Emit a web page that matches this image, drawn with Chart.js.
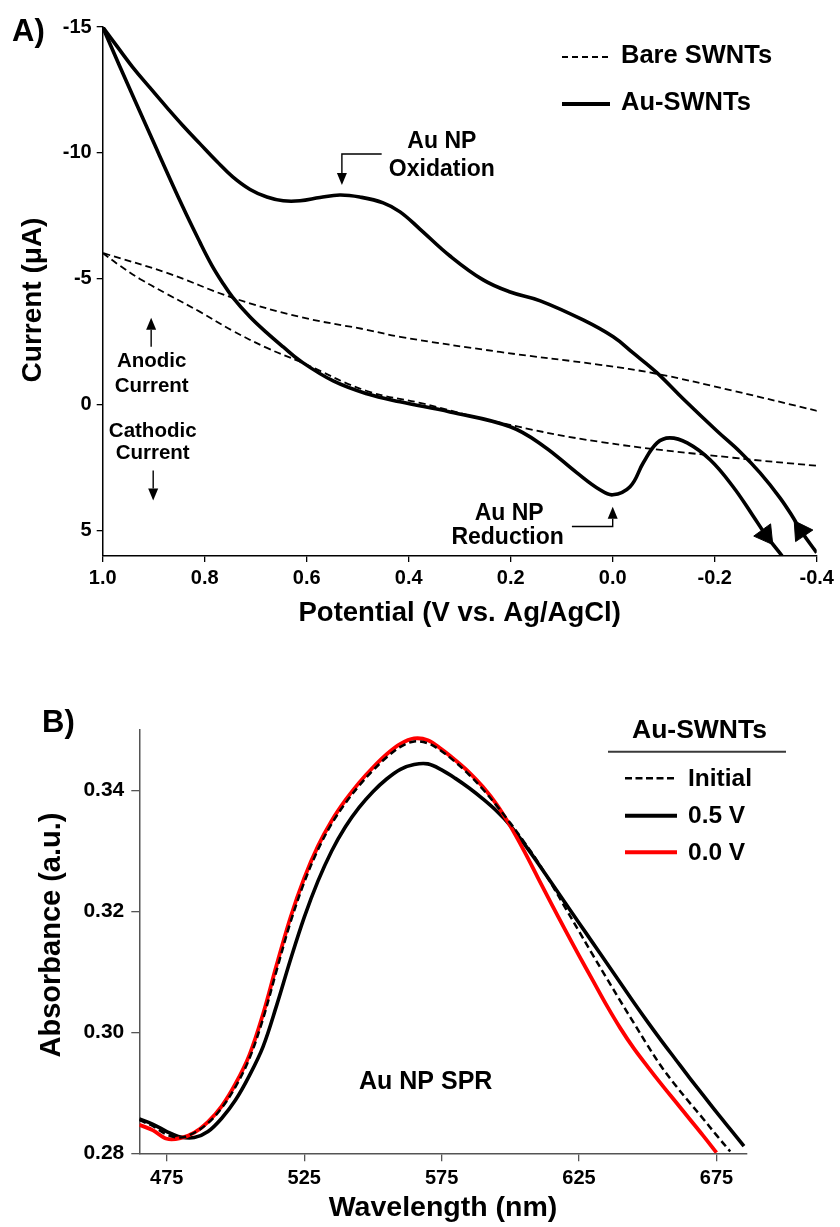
<!DOCTYPE html>
<html>
<head>
<meta charset="utf-8">
<script src="https://cdn.jsdelivr.net/npm/chart.js@4.4.1/dist/chart.umd.min.js"></script>
<style>
  html, body { margin: 0; padding: 0; background: #fff; }
  #wrap { position: relative; width: 840px; height: 1227px; }
  canvas { position: absolute; left: 0; }
  #cvChart { top: 0; }
  #specChart { top: 640px; }
</style>
</head>
<body>
<div id="wrap">
  <canvas id="cvChart" width="840" height="640"></canvas>
  <canvas id="specChart" width="840" height="587"></canvas>
</div>
<script>
// ---------- Panel A: cyclic voltammetry ----------
// Au-SWNTs, cathodic sweep (1.0 V -> -0.4 V)
const auCathodicV = [1.0, 0.966, 0.907, 0.843, 0.809, 0.786, 0.766, 0.745, 0.711, 0.678, 0.646, 0.613, 0.548, 0.482, 0.417, 0.319, 0.201, 0.136, 0.070, 0.025, 0.0, -0.034, -0.060, -0.087, -0.112, -0.146, -0.191, -0.236, -0.275, -0.300, -0.332];
const auCathodicI = [-15, -13.41, -10.73, -7.86, -6.44, -5.54, -4.88, -4.27, -3.49, -2.86, -2.30, -1.75, -0.95, -0.44, -0.12, 0.28, 0.87, 1.63, 2.70, 3.37, 3.57, 3.25, 2.30, 1.51, 1.31, 1.51, 2.18, 3.25, 4.40, 5.16, 5.99];
// Au-SWNTs, anodic sweep (-0.4 V -> 1.0 V)
const auAnodicV = [-0.400, -0.369, -0.354, -0.328, -0.289, -0.250, -0.204, -0.138, -0.087, -0.040, -0.001, 0.058, 0.142, 0.201, 0.254, 0.319, 0.378, 0.417, 0.450, 0.496, 0.535, 0.574, 0.613, 0.646, 0.678, 0.711, 0.745, 0.776, 0.809, 0.843, 0.874, 0.907, 0.941, 0.970, 1.0];
const auAnodicI = [5.87, 5.00, 4.48, 3.69, 2.70, 1.87, 1.03, -0.24, -1.27, -2.06, -2.70, -3.37, -4.13, -4.48, -4.96, -5.91, -6.98, -7.66, -8.02, -8.25, -8.33, -8.23, -8.10, -8.10, -8.25, -8.55, -9.05, -9.66, -10.36, -11.09, -11.80, -12.58, -13.40, -14.18, -15];
// Bare SWNTs, cathodic sweep
const bareCathodicV = [1.0, 0.966, 0.927, 0.874, 0.809, 0.745, 0.678, 0.613, 0.482, 0.378, 0.221, 0.025, -0.236, -0.401];
const bareCathodicI = [-6.03, -5.52, -5.00, -4.40, -3.69, -2.94, -2.26, -1.71, -0.55, -0.08, 0.71, 1.47, 2.10, 2.42];
// Bare SWNTs, anodic sweep
const bareAnodicV = [-0.401, -0.236, -0.087, 0.025, 0.221, 0.417, 0.482, 0.613, 0.745, 0.874, 1.0];
const bareAnodicI = [0.24, -0.56, -1.23, -1.59, -2.10, -2.70, -2.98, -3.49, -4.25, -5.24, -6.03];

const potentialTicks = [1.0, 0.8, 0.6, 0.4, 0.2, 0.0, -0.2, -0.4];
const currentTicks = [-15, -10, -5, 0, 5];

// ---------- Panel B: absorbance spectra ----------
const wavelengths = [465, 470, 475, 480, 485, 490, 495, 500, 505, 510, 515, 520, 525, 530, 535, 540, 545, 550, 555, 560, 565, 570, 575, 580, 585, 590, 595, 600, 605, 610, 615, 620, 625, 630, 635, 640, 645, 650, 655, 660, 665, 670, 675, 680, 685];
const absInitial = [0.2855, 0.2845, 0.2831, 0.2826, 0.2834, 0.2850, 0.2875, 0.2910, 0.2956, 0.3022, 0.3103, 0.3182, 0.3248, 0.3302, 0.3345, 0.3379, 0.3408, 0.3433, 0.3455, 0.3472, 0.3481, 0.3478, 0.3465, 0.3447, 0.3426, 0.3402, 0.3375, 0.3346, 0.3315, 0.3282, 0.3245, 0.3206, 0.3167, 0.3128, 0.3090, 0.3052, 0.3015, 0.2978, 0.2943, 0.2913, 0.2885, 0.2858, 0.2830, 0.2803, null];
const abs05V = [0.2857, 0.2848, 0.2836, 0.2827, 0.2826, 0.2836, 0.2858, 0.2888, 0.2928, 0.2976, 0.3045, 0.3120, 0.3190, 0.3250, 0.3300, 0.3340, 0.3372, 0.3398, 0.3419, 0.3435, 0.3443, 0.3444, 0.3434, 0.3420, 0.3404, 0.3386, 0.3366, 0.3342, 0.3312, 0.3280, 0.3247, 0.3214, 0.3181, 0.3148, 0.3115, 0.3082, 0.3049, 0.3017, 0.2986, 0.2956, 0.2926, 0.2897, 0.2868, 0.2840, 0.2812];
const abs00V = [0.2847, 0.2838, 0.2824, 0.2825, 0.2834, 0.2852, 0.2878, 0.2915, 0.2962, 0.3030, 0.3112, 0.3190, 0.3255, 0.3308, 0.3350, 0.3384, 0.3413, 0.3438, 0.3460, 0.3477, 0.3486, 0.3483, 0.3468, 0.3450, 0.3430, 0.3406, 0.3377, 0.3341, 0.3300, 0.3256, 0.3212, 0.3169, 0.3127, 0.3086, 0.3045, 0.3007, 0.2973, 0.2943, 0.2914, 0.2886, 0.2858, 0.2830, 0.2801, null, null];

const wavelengthTicks = [475, 525, 575, 625, 675];
const absorbanceTicks = [0.28, 0.30, 0.32, 0.34];

// ============================================
const FONT = '"Liberation Sans", Arial, Helvetica, sans-serif';
Chart.defaults.font.family = FONT;
Chart.defaults.color = '#000';

function bold(size) {
    return 'bold ' + size + 'px ' + FONT;
}

function toPoints(xs, ys) {
    return xs.map((x, i) => ({ x: x, y: ys[i] }));
}

// triangle marker on one point of a sweep, turned along the curve
function sweepArrow(xs, ys, idx) {
    return {
        pointStyle: 'triangle',
        pointRadius: ctx => ctx.dataIndex === idx ? 12 : 0,
        pointHoverRadius: 0,
        pointBackgroundColor: '#000',
        pointBorderColor: '#000',
        pointBorderWidth: 1,
        pointRotation: ctx => {
            if (ctx.dataIndex !== idx) return 0;
            const sx = ctx.chart.scales.x, sy = ctx.chart.scales.y;
            const dx = sx.getPixelForValue(xs[idx + 1]) - sx.getPixelForValue(xs[idx - 1]);
            const dy = sy.getPixelForValue(ys[idx + 1]) - sy.getPixelForValue(ys[idx - 1]);
            return Math.atan2(dy, dx) * 180 / Math.PI + 90;
        }
    };
}

// polyline with a filled arrow head at its last point
function drawArrow(c, pts, color) {
    const n = pts.length;
    const [tx, ty] = pts[n - 1];
    const [bx, by] = pts[n - 2];
    const ang = Math.atan2(ty - by, tx - bx);
    const len = 12, half = 5;
    const hx = tx - Math.cos(ang) * len, hy = ty - Math.sin(ang) * len;
    c.strokeStyle = color; c.fillStyle = color; c.lineWidth = 1.4;
    c.setLineDash([]);
    c.beginPath();
    c.moveTo(pts[0][0], pts[0][1]);
    for (let i = 1; i < n - 1; i++) c.lineTo(pts[i][0], pts[i][1]);
    c.lineTo(hx, hy);
    c.stroke();
    c.beginPath();
    c.moveTo(tx, ty);
    c.lineTo(hx - Math.sin(ang) * half, hy + Math.cos(ang) * half);
    c.lineTo(hx + Math.sin(ang) * half, hy - Math.cos(ang) * half);
    c.closePath();
    c.fill();
}

function centerText(c, text, x, y, size) {
    c.font = bold(size);
    c.textAlign = 'center';
    c.textBaseline = 'middle';
    c.fillText(text, x, y);
}

function verticalTitle(c, text, x, y, size) {
    c.save();
    c.translate(x, y);
    c.rotate(-Math.PI / 2);
    centerText(c, text, 0, 0, size);
    c.restore();
}

// ---------- Panel A decorations ----------
const cvDecor = {
    id: 'cvDecor',
    afterDraw(chart) {
        const c = chart.ctx;
        const sx = chart.scales.x, sy = chart.scales.y;
        const P = (v, i) => [sx.getPixelForValue(v), sy.getPixelForValue(i)];
        c.save();
        c.fillStyle = '#000';

        c.font = bold(31); c.textAlign = 'left'; c.textBaseline = 'middle';
        c.fillText('A)', 12, 32);

        verticalTitle(c, 'Current (\u03bcA)', 33, 300, 28);

        // legend
        c.strokeStyle = '#000';
        c.lineWidth = 2; c.setLineDash([6, 4]);
        c.beginPath(); c.moveTo(562, 57); c.lineTo(610, 57); c.stroke();
        c.setLineDash([]); c.lineWidth = 4;
        c.beginPath(); c.moveTo(562, 104); c.lineTo(610, 104); c.stroke();
        c.font = bold(25.5); c.textAlign = 'left'; c.textBaseline = 'middle';
        c.fillText('Bare SWNTs', 621, 56);
        c.fillText('Au-SWNTs', 621, 103);

        // oxidation peak label
        let p = P(0.335, -10.45); centerText(c, 'Au NP', p[0], p[1], 23);
        p = P(0.335, -9.33); centerText(c, 'Oxidation', p[0], p[1], 23);
        drawArrow(c, [P(0.453, -9.96), P(0.531, -9.96), P(0.531, -8.73)], '#000');

        // reduction peak label
        p = P(0.203, 4.30); centerText(c, 'Au NP', p[0], p[1], 23);
        p = P(0.206, 5.29); centerText(c, 'Reduction', p[0], p[1], 23);
        drawArrow(c, [P(0.080, 4.83), P(0.0, 4.83), P(0.0, 4.04)], '#000');

        // current direction notes
        p = P(0.904, -1.72); centerText(c, 'Anodic', p[0], p[1], 20.5);
        p = P(0.904, -0.75); centerText(c, 'Current', p[0], p[1], 20.5);
        drawArrow(c, [P(0.905, -2.31), P(0.905, -3.46)], '#000');
        p = P(0.902, 1.06); centerText(c, 'Cathodic', p[0], p[1], 20.5);
        p = P(0.902, 1.92); centerText(c, 'Current', p[0], p[1], 20.5);
        drawArrow(c, [P(0.901, 2.61), P(0.901, 3.80)], '#000');

        c.restore();
    }
};

new Chart(document.getElementById('cvChart'), {
    type: 'line',
    data: {
        datasets: [
            Object.assign({
                label: 'Au-SWNTs cathodic',
                data: toPoints(auCathodicV, auCathodicI),
                borderColor: '#000', borderWidth: 3.6, tension: 0.4, fill: false
            }, sweepArrow(auCathodicV, auCathodicI, 29)),
            Object.assign({
                label: 'Au-SWNTs anodic',
                data: toPoints(auAnodicV, auAnodicI),
                borderColor: '#000', borderWidth: 3.6, tension: 0.4, fill: false
            }, sweepArrow(auAnodicV, auAnodicI, 1)),
            {
                label: 'Bare SWNTs cathodic',
                data: toPoints(bareCathodicV, bareCathodicI),
                borderColor: '#000', borderWidth: 1.8, borderDash: [7, 4],
                tension: 0.4, pointRadius: 0, fill: false
            },
            {
                label: 'Bare SWNTs anodic',
                data: toPoints(bareAnodicV, bareAnodicI),
                borderColor: '#000', borderWidth: 1.8, borderDash: [7, 4],
                tension: 0.4, pointRadius: 0, fill: false
            }
        ]
    },
    options: {
        responsive: false,
        animation: false,
        events: [],
        layout: { padding: { left: 0, right: 23.3, top: 27, bottom: 0 } },
        plugins: { legend: { display: false }, tooltip: { enabled: false } },
        scales: {
            x: {
                type: 'linear', reverse: true, min: -0.4, max: 1.0,
                afterBuildTicks: s => { s.ticks = potentialTicks.map(v => ({ value: v })); },
                afterFit: s => { s.height = 84; },
                grid: { drawOnChartArea: false, drawTicks: true, tickLength: 6, color: '#000', lineWidth: 1.3 },
                border: { display: true, color: '#000', width: 1.5 },
                ticks: {
                    autoSkip: false, maxRotation: 0, padding: 4, color: '#000',
                    font: { size: 20, weight: 'bold' },
                    callback: v => v.toFixed(1)
                },
                title: {
                    display: true, text: 'Potential (V vs. Ag/AgCl)', color: '#000',
                    font: { size: 27.5, weight: 'bold' }, padding: { top: 0, bottom: 10 }
                }
            },
            y: {
                type: 'linear', reverse: true, min: -15, max: 6,
                afterBuildTicks: s => { s.ticks = currentTicks.map(v => ({ value: v })); },
                afterFit: s => { s.width = 102.7; },
                grid: { drawOnChartArea: false, drawTicks: true, tickLength: 6, color: '#000', lineWidth: 1.3 },
                border: { display: true, color: '#000', width: 1.5 },
                ticks: {
                    padding: 5, color: '#000', font: { size: 20, weight: 'bold' },
                    callback: v => String(v)
                }
            }
        }
    },
    plugins: [cvDecor]
});

// ---------- Panel B decorations ----------
const specDecor = {
    id: 'specDecor',
    afterDraw(chart) {
        const c = chart.ctx;
        const sx = chart.scales.x, sy = chart.scales.y;
        c.save();
        c.fillStyle = '#000';

        c.font = bold(31); c.textAlign = 'left'; c.textBaseline = 'middle';
        c.fillText('B)', 42, 83);

        verticalTitle(c, 'Absorbance (a.u.)', 52, 295, 29);

        // legend
        centerText(c, 'Au-SWNTs', 699.5, 91, 26.5);
        c.strokeStyle = '#3a3a3a'; c.lineWidth = 2;
        c.beginPath(); c.moveTo(608, 111.7); c.lineTo(786, 111.7); c.stroke();

        c.strokeStyle = '#000'; c.lineWidth = 2.5; c.setLineDash([7, 3.5]);
        c.beginPath(); c.moveTo(625, 138.3); c.lineTo(677, 138.3); c.stroke();
        c.setLineDash([]); c.lineWidth = 4;
        c.beginPath(); c.moveTo(625, 175.7); c.lineTo(677, 175.7); c.stroke();
        c.strokeStyle = '#ff0000';
        c.beginPath(); c.moveTo(625, 212.3); c.lineTo(677, 212.3); c.stroke();

        c.font = bold(24.5); c.textAlign = 'left'; c.textBaseline = 'middle';
        c.fillText('Initial', 688, 139);
        c.fillText('0.5 V', 688, 176.5);
        c.fillText('0.0 V', 688, 213);

        centerText(c, 'Au NP SPR', sx.getPixelForValue(569.2), sy.getPixelForValue(0.2918), 25);
        c.restore();
    }
};

new Chart(document.getElementById('specChart'), {
    type: 'line',
    data: {
        datasets: [
            {
                label: 'Initial',
                data: toPoints(wavelengths, absInitial),
                borderColor: '#000', borderWidth: 2.5, borderDash: [7, 4],
                tension: 0.35, pointRadius: 0, fill: false
            },
            {
                label: '0.0 V',
                data: toPoints(wavelengths, abs00V),
                borderColor: '#ff0000', borderWidth: 3.8,
                tension: 0.35, pointRadius: 0, fill: false
            },
            {
                label: '0.5 V',
                data: toPoints(wavelengths, abs05V),
                borderColor: '#000', borderWidth: 3.6,
                tension: 0.35, pointRadius: 0, fill: false
            }
        ]
    },
    options: {
        responsive: false,
        animation: false,
        events: [],
        layout: { padding: { left: 0, right: 93.3, top: 90, bottom: 0 } },
        plugins: { legend: { display: false }, tooltip: { enabled: false } },
        scales: {
            x: {
                type: 'linear', min: 465, max: 686,
                afterBuildTicks: s => { s.ticks = wavelengthTicks.map(v => ({ value: v })); },
                afterFit: s => { s.height = 73.7; },
                grid: { drawOnChartArea: false, drawTicks: true, tickLength: 8, color: '#555', lineWidth: 1.3 },
                border: { display: true, color: '#555', width: 1.5 },
                ticks: {
                    autoSkip: false, maxRotation: 0, padding: 5, color: '#000',
                    font: { size: 20, weight: 'bold' },
                    callback: v => String(v)
                },
                title: {
                    display: true, text: 'Wavelength (nm)', color: '#000',
                    font: { size: 28.5, weight: 'bold' }, padding: { top: 0, bottom: 2 }
                }
            },
            y: {
                type: 'linear', min: 0.28, max: 0.35,
                afterBuildTicks: s => { s.ticks = absorbanceTicks.map(v => ({ value: v })); },
                afterFit: s => { s.width = 139.3; },
                grid: { drawOnChartArea: false, drawTicks: true, tickLength: 8, color: '#555', lineWidth: 1.3 },
                border: { display: true, color: '#555', width: 1.5 },
                ticks: {
                    padding: 7, color: '#000', font: { size: 21, weight: 'bold' },
                    callback: v => v.toFixed(2)
                }
            }
        }
    },
    plugins: [specDecor]
});
</script>
</body>
</html>
